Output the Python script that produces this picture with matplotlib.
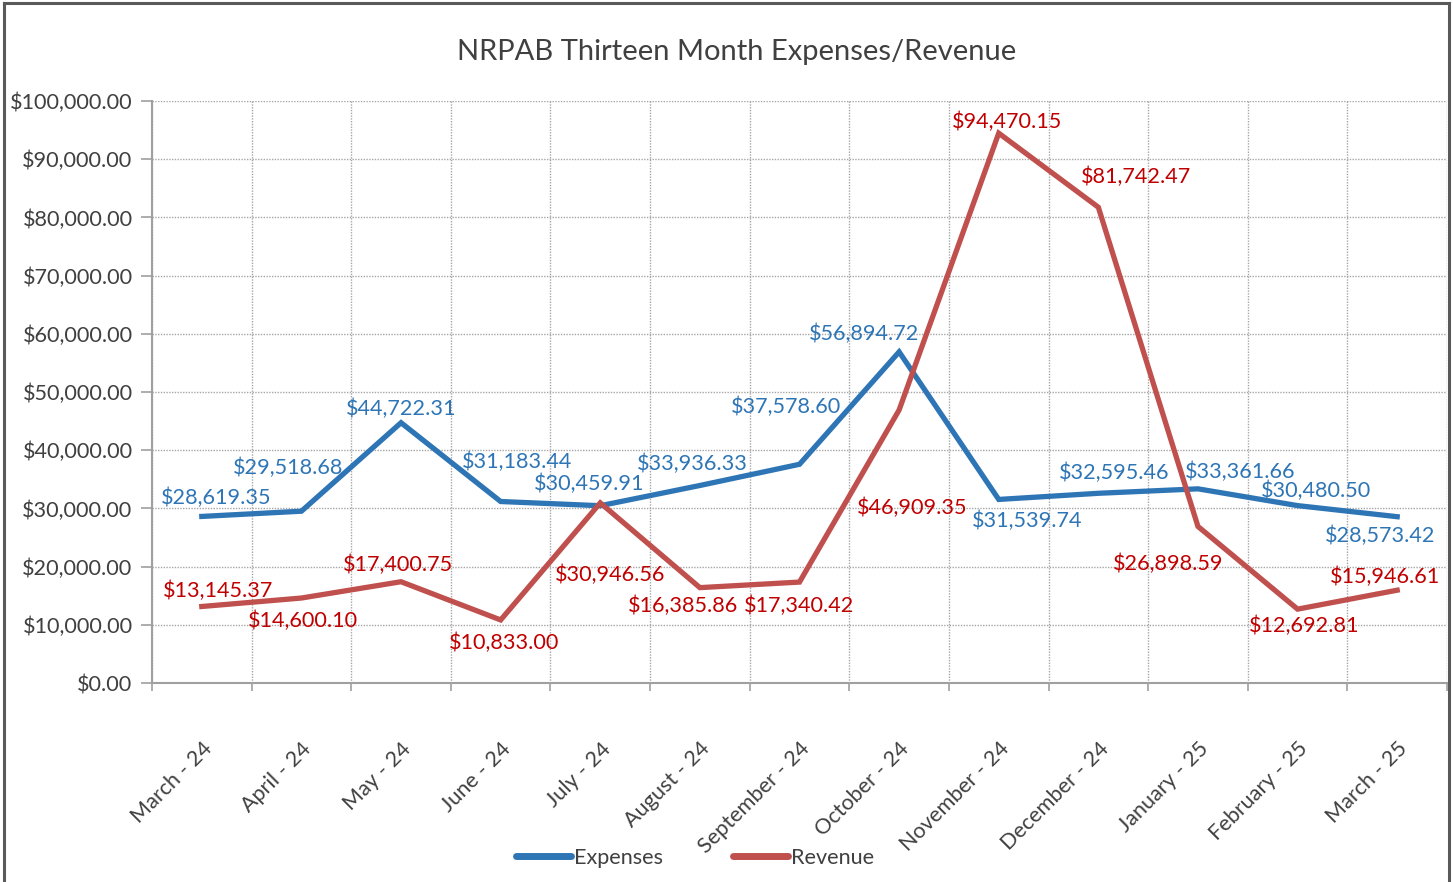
import matplotlib
matplotlib.use("Agg")
import matplotlib.pyplot as plt
import matplotlib.transforms as mtransforms
from matplotlib.lines import Line2D
from matplotlib.ticker import FuncFormatter, MultipleLocator

plt.rcParams['font.family'] = ['Lato', 'DejaVu Sans']

months = ["March - 24", "April - 24", "May - 24", "June - 24", "July - 24",
          "August - 24", "September - 24", "October - 24", "November - 24",
          "December - 24", "January - 25", "February - 25", "March - 25"]
expenses = [28619.35, 29518.68, 44722.31, 31183.44, 30459.91, 33936.33, 37578.60,
            56894.72, 31539.74, 32595.46, 33361.66, 30480.50, 28573.42]
revenue = [13145.37, 14600.10, 17400.75, 10833.00, 30946.56, 16385.86, 17340.42,
           46909.35, 94470.15, 81742.47, 26898.59, 12692.81, 15946.61]

# label offsets in pixels (dx, dy) relative to each point (style, not data)
exp_off = [(14, 19), (-13, 43), (0, 14), (16, 40), (-11, 22), (-8, 22), (-13, 57),
           (-35, 18), (28, -21), (16, 20), (42, 17), (18, 15), (-17, -19)]
rev_off = [(16, 16), (2, -23), (-3, 17), (3, -23), (10, -72), (-17, -18), (0, -24),
           (13, -98), (8, 11), (38, 30), (-30, -37), (7, -17), (-12, 13)]

W, H = 1453, 882
fig = plt.figure(figsize=(W / 100, H / 100), dpi=100)
ax = fig.add_axes([152 / W, 1 - 683 / H, (1447 - 152) / W, (683 - 101) / H])

blue_line = "#2E75B6"
red_line = "#C0504D"
blue_txt = "#2E75B6"
red_txt = "#C00000"
gray_txt = "#404040"

x = list(range(len(months)))
ax.plot(x, expenses, color=blue_line, lw=3.8, solid_joinstyle='miter', zorder=3)
ax.plot(x, revenue, color=red_line, lw=3.8, solid_joinstyle='miter', zorder=3)

fs = 15.6
for xi, v, (dx, dy) in zip(x, expenses, exp_off):
    ax.annotate(f"${v:,.2f}", (xi, v), xytext=(dx, dy), textcoords='offset pixels',
                ha='center', va='center', color=blue_txt, fontsize=fs, zorder=4)
for xi, v, (dx, dy) in zip(x, revenue, rev_off):
    ax.annotate(f"${v:,.2f}", (xi, v), xytext=(dx, dy), textcoords='offset pixels',
                ha='center', va='center', color=red_txt, fontsize=fs, zorder=4)

ax.set_xlim(-0.5, len(months) - 0.5)
ax.set_ylim(0, 100000)
ax.yaxis.set_major_locator(MultipleLocator(10000))
ax.yaxis.set_major_formatter(FuncFormatter(lambda v, p: f"${v:,.2f}"))
ax.set_xticks(x)
ax.set_xticklabels(months, rotation=45, ha='right', rotation_mode='anchor')
ax.set_xticks([i - 0.5 for i in range(len(months) + 1)], minor=True)

shift = mtransforms.ScaledTranslation(-7 / 100, 0, fig.dpi_scale_trans)
for lbl in ax.get_xticklabels():
    lbl.set_transform(lbl.get_transform() + shift)

ax.tick_params(axis='x', which='major', length=0, pad=40, labelsize=fs, labelcolor=gray_txt)
ax.tick_params(axis='x', which='minor', length=6, width=1.2, color="#A0A0A0", direction='out')
ax.tick_params(axis='y', which='major', length=8, width=1.2, color="#A0A0A0",
               labelsize=fs, labelcolor=gray_txt, pad=6)

ax.grid(True, axis='y', which='major', color="#A6A6A6", linestyle=(0, (1, 1)), lw=1)
ax.grid(True, axis='x', which='minor', color="#A6A6A6", linestyle=(0, (1, 1)), lw=1)
ax.set_axisbelow(True)

for s in ['top', 'right']:
    ax.spines[s].set_visible(False)
for s in ['left', 'bottom']:
    ax.spines[s].set_color("#A0A0A0")
    ax.spines[s].set_linewidth(1.5)

fig.text(737 / W, 1 - 52 / H, "NRPAB Thirteen Month Expenses/Revenue",
         ha='center', va='center', fontsize=21, color=gray_txt)

handles = [Line2D([], [], color=blue_line, lw=5, solid_capstyle='round'),
           Line2D([], [], color=red_line, lw=5, solid_capstyle='round')]
fig.legend(handles, ["Expenses", "Revenue"], loc='center', ncol=2,
           bbox_to_anchor=(695 / W, 1 - 858 / H), frameon=False, fontsize=fs,
           labelcolor=gray_txt, handlelength=2.55, handletextpad=0.15, columnspacing=3.2)

# outer border (chart area frame)
border_kw = dict(color="#595959", lw=2.2, transform=fig.transFigure, clip_on=False)
fig.add_artist(Line2D([4 / W, 4 / W], [0, 1 - 3 / H], **border_kw))
fig.add_artist(Line2D([4 / W, 1449 / W], [1 - 3 / H, 1 - 3 / H], **border_kw))
fig.add_artist(Line2D([1449 / W, 1449 / W], [0, 1 - 3 / H], **border_kw))

fig.savefig("out.png", dpi=100, facecolor='white')
